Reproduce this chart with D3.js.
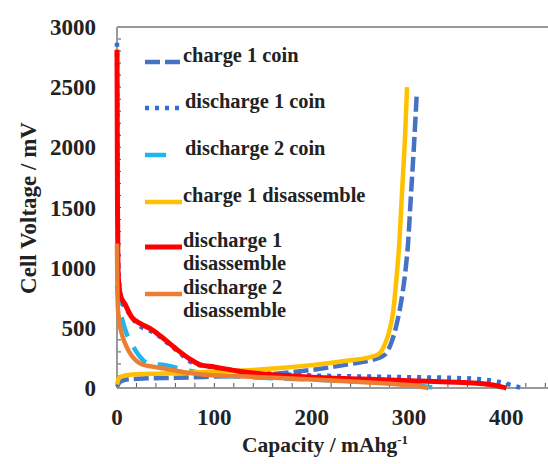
<!DOCTYPE html>
<html><head><meta charset="utf-8">
<script src="https://cdn.jsdelivr.net/npm/d3@7"></script>
<style>body{margin:0;background:#fff}svg{display:block}</style>
</head><body><div id="chart"></div>
<script>
// Data (capacity mAh/g, voltage mV)
const charge1Coin = [[0,10],[3,50],[10,70],[30,80],[60,85],[100,95],[150,110],[200,150],[240,200],[265,240],[275,275],[282,380],[287,520],[292,720],[296,950],[299,1200],[302,1600],[305,2000],[308,2450]];
const discharge1Coin = [[0,2870],[0.5,2000],[1,1200],[2,900],[5,720],[10,650],[20,540],[40,450],[60,320],[80,200],[100,170],[140,130],[180,110],[220,100],[260,95],[300,90],[340,85],[370,75],[390,55],[405,25],[415,0]];
const discharge2Coin = [[0,850],[2,700],[5,580],[10,450],[15,370],[20,300],[27,230],[35,200],[50,190],[70,150],[100,110],[150,85],[200,70],[250,55],[290,40],[310,20],[325,5],[335,0]];
const charge1Dis = [[0,30],[2,80],[8,105],[20,115],[50,120],[100,135],[150,155],[200,190],[240,230],[262,260],[270,290],[276,380],[280,480],[284,650],[287,900],[290,1200],[293,1650],[296,2100],[298,2500]];
const discharge1Dis = [[0,2810],[0.5,1500],[1,1000],[2,850],[4,760],[8,700],[15,590],[25,530],[35,490],[45,430],[60,330],[75,240],[85,195],[100,175],[125,140],[160,110],[200,90],[250,75],[300,60],[340,50],[370,40],[390,20],[400,0]];
const discharge2Dis = [[0,1200],[0.3,900],[1,650],[3,520],[6,420],[10,340],[15,270],[20,225],[26,195],[35,180],[50,160],[70,130],[90,110],[120,100],[160,85],[200,70],[250,50],[290,30],[310,15],[320,0]];

const seriesNames = ["charge 1 coin","discharge 1 coin","discharge 2 coin","charge 1 disassemble","discharge 1\ndisassemble","discharge 2\ndisassemble"];
const seriesData = [charge1Coin, discharge1Coin, discharge2Coin, charge1Dis, discharge1Dis, discharge2Dis];
const seriesColors = ["#4472C4","#2F6FD8","#1FB6F0","#FFC000","#FF0000","#ED7D31"];
const seriesDash = ["15,5","4,6","20,12",null,null,null];
const xTicks = [0,100,200,300,400];
const yTicks = [0,500,1000,1500,2000,2500,3000];

const W=548,H=464;
const svg=d3.select("#chart").append("svg").attr("width",W).attr("height",H);
const x=d3.scaleLinear().domain([0,450]).range([117,555]);
const y=d3.scaleLinear().domain([0,3000]).range([388,27]);
const font='"Liberation Serif","Times New Roman",serif';

// minor ticks
const g=svg.append("g");
g.selectAll(".xt").data(d3.range(0,460,20)).enter().append("line")
 .attr("x1",d=>x(d)).attr("x2",d=>x(d)).attr("y1",388).attr("y2",383)
 .attr("stroke","#555").attr("stroke-width",1);
g.selectAll(".yt").data(d3.range(0,3001,100)).enter().append("line")
 .attr("x1",117).attr("x2",121).attr("y1",d=>y(d)).attr("y2",d=>y(d))
 .attr("stroke","#555").attr("stroke-width",1);
// axes lines
g.append("line").attr("x1",117).attr("x2",117).attr("y1",27).attr("y2",388).attr("stroke","#999").attr("stroke-width",2);
g.append("line").attr("x1",117).attr("x2",W).attr("y1",388).attr("y2",388).attr("stroke","#999").attr("stroke-width",2);
g.append("line").attr("x1",117).attr("x2",W).attr("y1",27).attr("y2",27).attr("stroke","#999").attr("stroke-width",2);

// tick labels
svg.selectAll(".yl").data(yTicks).enter().append("text")
 .attr("x",96).attr("y",d=>y(d)).attr("dy","0.35em").attr("text-anchor","end")
 .attr("font-family",font).attr("font-weight","bold").attr("font-size",23).attr("fill","#222").text(d=>d);
svg.selectAll(".xl").data(xTicks).enter().append("text")
 .attr("x",d=>x(d)).attr("y",425).attr("text-anchor","middle")
 .attr("font-family",font).attr("font-weight","bold").attr("font-size",23).attr("fill","#222").text(d=>d);

// titles
const xt=svg.append("text").attr("x",325).attr("y",452).attr("text-anchor","middle")
 .attr("font-family",font).attr("font-weight","bold").attr("font-size",21.5).attr("fill","#222");
xt.append("tspan").text("Capacity / mAhg");
xt.append("tspan").attr("dy",-8).attr("font-size",13).text("-1");
svg.append("text").attr("transform","translate(36,208) rotate(-90)").attr("text-anchor","middle")
 .attr("font-family",font).attr("font-weight","bold").attr("font-size",23).attr("fill","#222").text("Cell Voltage / mV");

// lines
const line=d3.line().x(d=>x(d[0])).y(d=>y(d[1])).curve(d3.curveMonotoneX);
seriesData.forEach((data,i)=>{
  svg.append("path").attr("d",line(data)).attr("fill","none")
   .attr("stroke",seriesColors[i]).attr("stroke-width",i===4?5:4.5)
   .attr("stroke-dasharray",seriesDash[i]).attr("stroke-linejoin","round");
});

// legend
const legY=[62,108,155,202,247,294];
seriesNames.forEach((name,i)=>{
  const lx2 = i===2?166:182;
  svg.append("line").attr("x1",145).attr("x2",lx2).attr("y1",legY[i]).attr("y2",legY[i])
   .attr("stroke",seriesColors[i]).attr("stroke-width",i===4?5:4.5)
   .attr("stroke-dasharray",i===2?null:seriesDash[i]);
  const tx = i===0||i>=3?183:185;
  const t=svg.append("text").attr("x",tx).attr("y",legY[i]).attr("dy","0.35em")
   .attr("font-family",font).attr("font-weight","bold").attr("font-size",20.4).attr("fill","#222");
  name.split("\n").forEach((s,k)=>{
    t.append("tspan").attr("x",tx).attr("dy",k===0?0:22.5).text(s);
  });
});
</script></body></html>
